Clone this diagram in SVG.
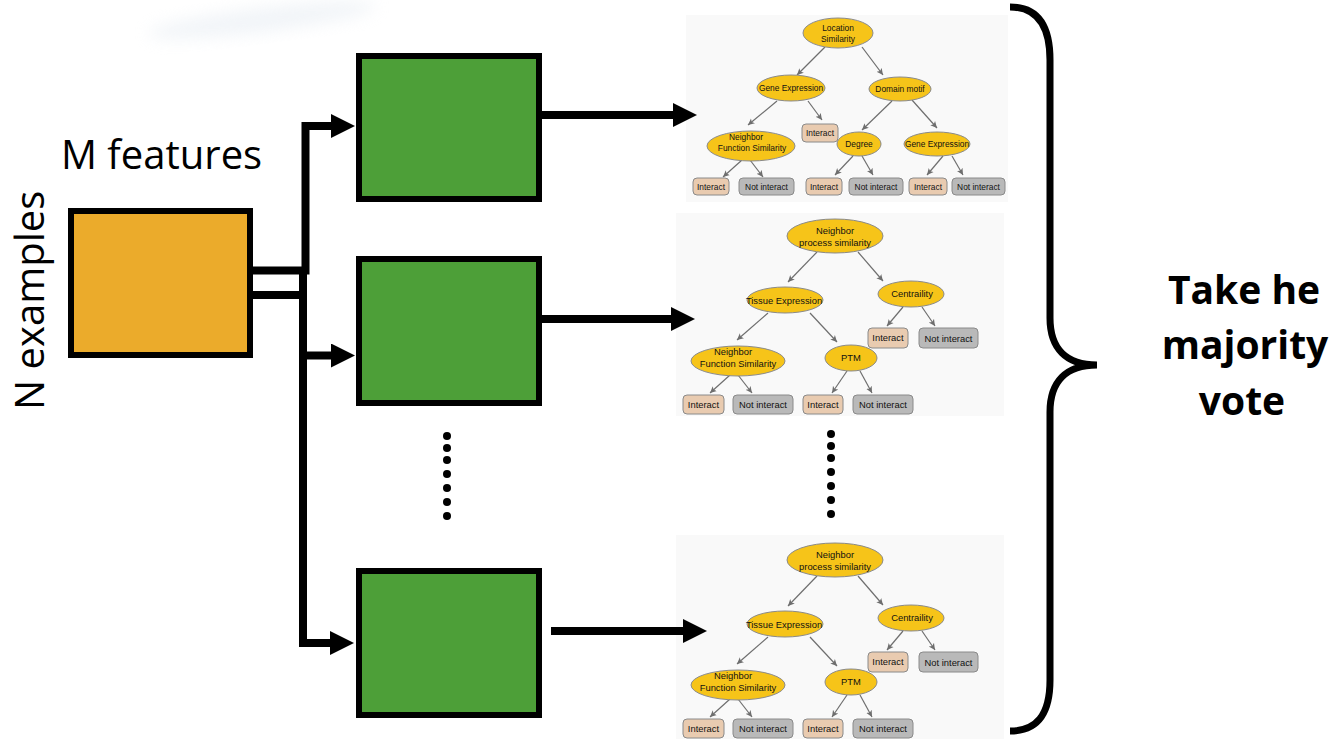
<svg xmlns="http://www.w3.org/2000/svg" width="1330" height="739" viewBox="0 0 1330 739">
<style>
.big{fill:none;stroke:#000;stroke-width:8;stroke-linejoin:miter}
.arr{marker-end:url(#ba)}
.gl{fill:none;stroke:#6e6e6e;stroke-width:1.2;marker-end:url(#ga)}
.box{stroke:#000;stroke-width:6}
.green{fill:#4d9f38}
.orange{fill:#ebab2b}
.panel{fill:#f9f9f9}
.ell{fill:#f6c419;stroke:#8a8a8a;stroke-width:1}
.li{fill:#e9cbb0;stroke:#8a8a8a;stroke-width:1}
.ln{fill:#b9b9b9;stroke:#8a8a8a;stroke-width:1}
.t1{font-family:"Liberation Sans",Arial,sans-serif;font-size:8.4px;fill:#111;text-anchor:middle}
.t2{font-family:"Liberation Sans",Arial,sans-serif;font-size:9.4px;fill:#111;text-anchor:middle}
.lab{font-family:"Open Sans","DejaVu Sans",sans-serif;font-size:40px;fill:#000}
.vote{font-family:"Open Sans","DejaVu Sans",sans-serif;font-size:39px;font-weight:700;fill:#000;text-anchor:middle}
.dot{fill:#000}
</style>
<defs>
<marker id="ba" markerUnits="userSpaceOnUse" markerWidth="24" markerHeight="24" refX="0" refY="12" orient="auto"><path d="M0,0 L24,12 L0,24 z" fill="#000"/></marker>
<marker id="ga" markerUnits="userSpaceOnUse" markerWidth="8" markerHeight="8" refX="6.5" refY="4" orient="auto"><path d="M0,0.8 L6.5,4 L0,7.2 L1.6,4 z" fill="#6e6e6e"/></marker>
<filter id="blur" x="-50%" y="-50%" width="200%" height="200%"><feGaussianBlur stdDeviation="8"/></filter>
</defs>
<rect width="1330" height="739" fill="#fff"/>
<ellipse cx="262" cy="20" rx="115" ry="12" transform="rotate(-7 262 20)" fill="#dde5ee" opacity="0.4" filter="url(#blur)"/>

<!-- tree panels -->
<rect class="panel" x="686" y="15" width="322" height="187"/>
<rect class="panel" x="676" y="213" width="328" height="203"/>
<rect class="panel" x="676" y="535" width="328" height="204"/>

<g id="connectors">
<path class="big arr" d="M253,270.5 H305.5 V126 H331"/>
<path class="big" d="M253,295 H307"/>
<path class="big arr" d="M303,274 V643 H330"/>
<path class="big arr" d="M303,355.5 H331"/>
<path class="big arr" d="M542,115 H673"/>
<path class="big arr" d="M542,319 H671"/>
<path class="big arr" d="M551,631 H683"/>
<path d="M1010,7 C1036,7 1050,24 1050,60 L1050,318 C1050,348 1066,365 1097,365 C1066,365 1050,382 1050,412 L1050,680 C1050,716 1036,731 1010,731" fill="none" stroke="#000" stroke-width="7"/>
<!-- tree 1 -->
<path class="gl" d="M825,47 L797,75"/>
<path class="gl" d="M862,47 L883,75"/>
<path class="gl" d="M777,101 L748,125"/>
<path class="gl" d="M808,101 L822,120"/>
<path class="gl" d="M892,101 L862,130"/>
<path class="gl" d="M912,100 L937,128"/>
<path class="gl" d="M742,160 L723,177"/>
<path class="gl" d="M750,160 L763,177"/>
<path class="gl" d="M853,156 L835,175"/>
<path class="gl" d="M862,156 L873,175"/>
<path class="gl" d="M943,156 L927,175"/>
<path class="gl" d="M952,156 L963,175"/>
<!-- tree 2 -->
<path class="gl" d="M817,252 L788,282"/>
<path class="gl" d="M858,252 L883,281"/>
<path class="gl" d="M768,313 L737,340"/>
<path class="gl" d="M810,313 L837,342"/>
<path class="gl" d="M903,307 L887,326"/>
<path class="gl" d="M922,307 L935,326"/>
<path class="gl" d="M730,375 L710,393"/>
<path class="gl" d="M738,375 L752,393"/>
<path class="gl" d="M847,371 L832,393"/>
<path class="gl" d="M860,371 L872,393"/>
<!-- tree 3 -->
<path class="gl" d="M817,576 L788,606"/>
<path class="gl" d="M858,576 L883,605"/>
<path class="gl" d="M768,637 L737,664"/>
<path class="gl" d="M810,637 L837,666"/>
<path class="gl" d="M903,631 L887,650"/>
<path class="gl" d="M922,631 L935,650"/>
<path class="gl" d="M730,699 L710,717"/>
<path class="gl" d="M738,699 L752,717"/>
<path class="gl" d="M847,695 L832,717"/>
<path class="gl" d="M860,695 L872,717"/>
</g>

<g id="data">
<rect class="box orange" x="71" y="211" width="179" height="144"/>
<text class="lab" x="61" y="169" font-size="41">M features</text>
<text class="lab" transform="translate(44,410) rotate(-90)" x="0" y="0">N examples</text>
</g>
<g id="model1"><rect class="box green" x="359" y="56" width="180" height="143"/></g>
<g id="model2"><rect class="box green" x="359" y="259" width="180" height="144"/></g>
<g id="model3"><rect class="box green" x="359" y="571" width="180" height="144"/></g>

<g id="dots-left">
<circle class="dot" cx="447" cy="436" r="4"/><circle class="dot" cx="447" cy="448" r="4"/><circle class="dot" cx="447" cy="460" r="4"/><circle class="dot" cx="447" cy="474" r="4"/><circle class="dot" cx="447" cy="488" r="4"/><circle class="dot" cx="447" cy="502" r="4"/><circle class="dot" cx="447" cy="516" r="4"/>
</g>
<g id="dots-right">
<circle class="dot" cx="831" cy="434" r="4"/><circle class="dot" cx="831" cy="446" r="4"/><circle class="dot" cx="831" cy="458" r="4"/><circle class="dot" cx="831" cy="472" r="4"/><circle class="dot" cx="831" cy="486" r="4"/><circle class="dot" cx="831" cy="500" r="4"/><circle class="dot" cx="831" cy="514" r="4"/>
</g>

<!-- tree 1 nodes -->
<g id="t1-root"><ellipse class="ell" cx="838" cy="33" rx="35" ry="15"/><text class="t1" x="838" y="31">Location</text><text class="t1" x="838" y="42">Similarity</text></g>
<g id="t1-ge"><ellipse class="ell" cx="791" cy="88" rx="34" ry="13"/><text class="t1" x="791" y="91">Gene Expression</text></g>
<g id="t1-dm"><ellipse class="ell" cx="900" cy="89" rx="31" ry="12"/><text class="t1" x="900" y="92">Domain motif</text></g>
<g id="t1-i0"><rect class="li" x="802" y="124" width="36" height="18" rx="4"/><text class="t1" x="820" y="136">Interact</text></g>
<g id="t1-nfs"><ellipse class="ell" cx="751" cy="146" rx="44" ry="15"/><text class="t1" x="746" y="140">Neighbor</text><text class="t1" x="752" y="151">Function Similarity</text></g>
<g id="t1-deg"><ellipse class="ell" cx="859" cy="144" rx="22" ry="12"/><text class="t1" x="859" y="147">Degree</text></g>
<g id="t1-ge2"><ellipse class="ell" cx="937" cy="144" rx="33" ry="12"/><text class="t1" x="937" y="147">Gene Expression</text></g>
<g id="t1-i1"><rect class="li" x="693" y="178" width="36" height="17" rx="4"/><text class="t1" x="711" y="189.5">Interact</text></g>
<g id="t1-n1"><rect class="ln" x="739" y="178" width="55" height="17" rx="4"/><text class="t1" x="766.5" y="189.5">Not interact</text></g>
<g id="t1-i2"><rect class="li" x="806" y="178" width="36" height="17" rx="4"/><text class="t1" x="824" y="189.5">Interact</text></g>
<g id="t1-n2"><rect class="ln" x="849" y="178" width="54" height="17" rx="4"/><text class="t1" x="876" y="189.5">Not interact</text></g>
<g id="t1-i3"><rect class="li" x="909" y="178" width="38" height="17" rx="4"/><text class="t1" x="928" y="189.5">Interact</text></g>
<g id="t1-n3"><rect class="ln" x="952" y="178" width="53" height="17" rx="4"/><text class="t1" x="978.5" y="189.5">Not interact</text></g>

<!-- tree 2 nodes -->
<g id="t2-root"><ellipse class="ell" cx="835" cy="236" rx="48" ry="17"/><text class="t2" x="835" y="234">Neighbor</text><text class="t2" x="835" y="246">process similarity</text></g>
<g id="t2-te"><ellipse class="ell" cx="785" cy="300" rx="38" ry="13"/><text class="t2" x="784" y="303.5">Tissue Expression</text></g>
<g id="t2-cent"><ellipse class="ell" cx="911" cy="294" rx="33" ry="13"/><text class="t2" x="912" y="297">Centraility</text></g>
<g id="t2-ci"><rect class="li" x="868" y="328" width="40" height="20" rx="4"/><text class="t2" x="888" y="341">Interact</text></g>
<g id="t2-cn"><rect class="ln" x="919" y="328" width="59" height="20" rx="4"/><text class="t2" x="948.5" y="342">Not interact</text></g>
<g id="t2-nfs"><ellipse class="ell" cx="738" cy="361" rx="47" ry="15"/><text class="t2" x="733" y="355">Neighbor</text><text class="t2" x="738" y="366.5">Function Similarity</text></g>
<g id="t2-ptm"><ellipse class="ell" cx="851" cy="358" rx="26" ry="13"/><text class="t2" x="851" y="361">PTM</text></g>
<g id="t2-i1"><rect class="li" x="683" y="395" width="41" height="19" rx="4"/><text class="t2" x="703.5" y="407.5">Interact</text></g>
<g id="t2-n1"><rect class="ln" x="733" y="395" width="60" height="19" rx="4"/><text class="t2" x="763" y="408">Not interact</text></g>
<g id="t2-i2"><rect class="li" x="803" y="395" width="40" height="19" rx="4"/><text class="t2" x="823" y="407.5">Interact</text></g>
<g id="t2-n2"><rect class="ln" x="853" y="395" width="60" height="19" rx="4"/><text class="t2" x="883" y="408">Not interact</text></g>

<!-- tree 3 nodes -->
<g id="t3-root"><ellipse class="ell" cx="835" cy="560" rx="48" ry="17"/><text class="t2" x="835" y="558">Neighbor</text><text class="t2" x="835" y="570">process similarity</text></g>
<g id="t3-te"><ellipse class="ell" cx="785" cy="624" rx="38" ry="13"/><text class="t2" x="784" y="627.5">Tissue Expression</text></g>
<g id="t3-cent"><ellipse class="ell" cx="911" cy="618" rx="33" ry="13"/><text class="t2" x="912" y="621">Centraility</text></g>
<g id="t3-ci"><rect class="li" x="868" y="652" width="40" height="20" rx="4"/><text class="t2" x="888" y="665">Interact</text></g>
<g id="t3-cn"><rect class="ln" x="919" y="652" width="59" height="20" rx="4"/><text class="t2" x="948.5" y="666">Not interact</text></g>
<g id="t3-nfs"><ellipse class="ell" cx="738" cy="685" rx="47" ry="15"/><text class="t2" x="733" y="679">Neighbor</text><text class="t2" x="738" y="690.5">Function Similarity</text></g>
<g id="t3-ptm"><ellipse class="ell" cx="851" cy="682" rx="26" ry="13"/><text class="t2" x="851" y="685">PTM</text></g>
<g id="t3-i1"><rect class="li" x="683" y="719" width="41" height="19" rx="4"/><text class="t2" x="703.5" y="731.5">Interact</text></g>
<g id="t3-n1"><rect class="ln" x="733" y="719" width="60" height="19" rx="4"/><text class="t2" x="763" y="732">Not interact</text></g>
<g id="t3-i2"><rect class="li" x="803" y="719" width="40" height="19" rx="4"/><text class="t2" x="823" y="731.5">Interact</text></g>
<g id="t3-n2"><rect class="ln" x="853" y="719" width="60" height="19" rx="4"/><text class="t2" x="883" y="732">Not interact</text></g>

<g id="vote">
<text class="vote" x="1244" y="304">Take he</text>
<text class="vote" x="1245" y="359">majority</text>
<text class="vote" x="1242" y="415">vote</text>
</g>
</svg>
